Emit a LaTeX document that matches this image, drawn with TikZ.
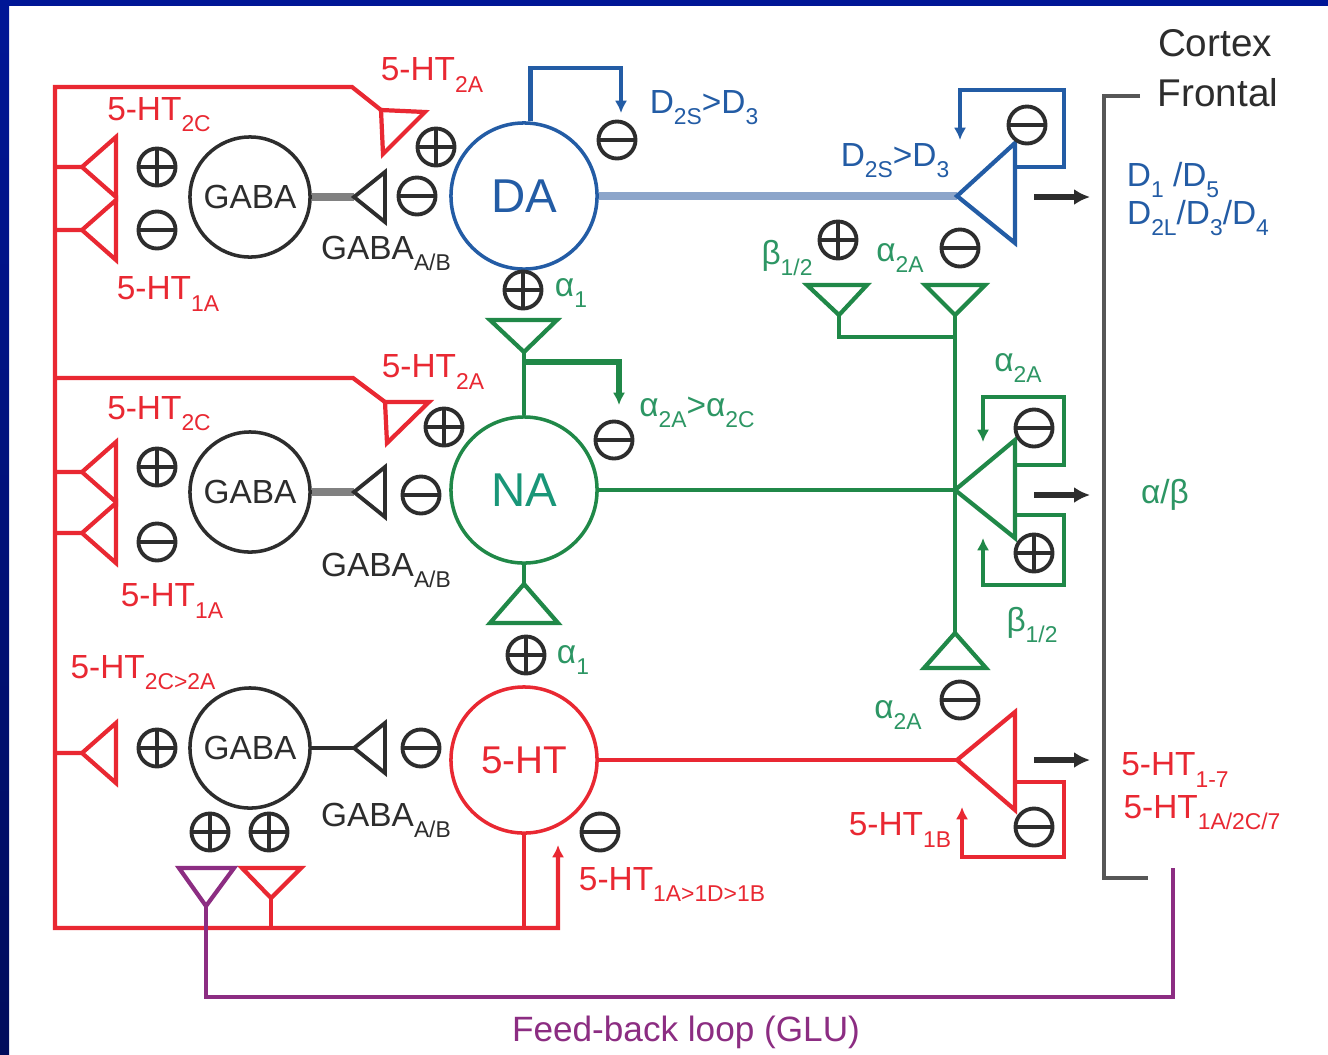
\documentclass[tikz,border=0pt]{standalone}
\usepackage{fontspec}
\setmainfont{Liberation Sans}
\usetikzlibrary{arrows.meta}
\definecolor{frame}{RGB}{0,22,150}
\definecolor{framedk}{RGB}{0,12,92}
\definecolor{htred}{RGB}{233,40,50}
\definecolor{dablue}{RGB}{35,92,165}
\definecolor{dalight}{RGB}{140,165,202}
\definecolor{nagreen}{RGB}{32,136,72}
\definecolor{natext}{RGB}{25,150,120}
\definecolor{rcpt}{RGB}{45,150,100}
\definecolor{glu}{RGB}{140,45,130}
\definecolor{ink}{RGB}{45,45,45}
\newcommand{\sbs}[1]{\raisebox{-0.33em}{\fontsize{6.5}{7}\selectfont #1}}

\begin{document}
\begin{tikzpicture}[x=0.01cm,y=-0.01cm,font=\fontsize{9.5}{11}\selectfont,
  cell/.style={circle,line width=1pt,minimum size=1.46cm,inner sep=0pt},
  gaba/.style={circle,draw=ink,line width=1pt,minimum size=1.2cm,inner sep=0pt,text=ink},
  sgn/.style={circle,draw=ink,line width=1.1pt,minimum size=0.37cm,inner sep=0pt},
  exc/.style={sgn,path picture={\draw[ink,line width=1.1pt] (path picture bounding box.west)--(path picture bounding box.east) (path picture bounding box.north)--(path picture bounding box.south);}},
  inh/.style={sgn,path picture={\draw[ink,line width=1.1pt] (path picture bounding box.west)--(path picture bounding box.east);}},
  lbl/.style={inner sep=0pt},
  htw/.style={htred,line width=1.2pt},
  naw/.style={nagreen,line width=1.2pt},
  daw/.style={dablue,line width=1.2pt},
  proj/.style={ink,line width=1.6pt,-{Latex[length=4.5pt,width=4.5pt]}},
  loopar/.style={-{Latex[length=3.5pt,width=3.5pt]}}]
\useasboundingbox (0,0) rectangle (1328,1054);
\fill[white] (0,0) rectangle (1328,1054);
\fill[frame] (0,0) rectangle (1328,6);
\shade[top color=frame,bottom color=framedk] (0,0) rectangle (9,1054);

% cells
\node[cell,draw=dablue,text=dablue,font=\fontsize{13.5}{14}\selectfont] (DA) at (524,196) {DA};
\node[cell,draw=nagreen,text=natext,font=\fontsize{13.5}{14}\selectfont] (NA) at (524,490) {NA};
\node[cell,draw=htred,text=htred,font=\fontsize{11}{12}\selectfont] (HT) at (524,760) {5-HT};
\node[gaba] (gaba1) at (250,197) {GABA};
\node[gaba] (gaba2) at (250,492) {GABA};
\node[gaba] (gaba3) at (250,748) {GABA};

% 5-HT projections (red)
\draw[htw,loopar] (381,110) -- (352,87) -- (55,87) -- (55,928) -- (558,928) -- (558,845);
\draw[htw] (385,402) -- (353,378) -- (55,378);
\draw[htw] (381,110) -- (425,112) -- (383,154) -- cycle;
\draw[htw] (385,402) -- (429,402) -- (387,443) -- cycle;
\foreach \y in {167,230,472,533,753}
  \draw[htw] (55,\y) -- (82,\y) (82,\y) -- ++(34,-30) -- ++(0,60) -- cycle;
\draw[htw] (HT.south) -- (524,928);
\draw[htw] (242,868) -- (301,868) -- (271,898) -- cycle;
\draw[htw] (271,898) -- (271,928);

% feed-back loop
\draw[glu,line width=1.2pt] (179,868) -- (234,868) -- (206,906) -- cycle;
\draw[glu,line width=1.2pt] (206,906) -- (206,997) -- (1173,997) -- (1173,868);
\node[lbl,text=glu,font=\fontsize{10}{11}\selectfont] (glu) at (686,1032) {Feed-back loop (GLU)};

% GABA interneurons
\draw[ink!60,line width=2pt] (gaba1.east) -- (354,197);
\draw[ink,line width=1.1pt] (354,197) -- (385,172) -- (385,222) -- cycle;
\draw[ink!60,line width=2pt] (gaba2.east) -- (354,492);
\draw[ink,line width=1.1pt] (354,492) -- (385,467) -- (385,517) -- cycle;
\draw[ink,line width=1.3pt] (gaba3.east) -- (354,748);
\draw[ink,line width=1.1pt] (354,748) -- (385,723) -- (385,773) -- cycle;

% DA (blue)
\draw[daw,loopar] (DA.85) |- (621,68) -- (621,113);
\draw[dalight,line width=2.4pt] (DA.east) -- (957,196);
\draw[daw] (957,196) -- (1015,143) -- (1015,243) -- cycle;
\draw[daw,loopar] (1015,167) -- (1064,167) -- (1064,90) -- (960,90) -- (960,140);

% NA (green)
\draw[naw] (490,320) -- (557,320) -- (524,352) -- cycle;
\draw[naw] (524,352) -- (NA.north);
\draw[nagreen,line width=1.8pt,loopar] (524,362) -- (619,362) -- (619,405);
\draw[naw] (NA.south) -- (524,584);
\draw[naw] (524,584) -- (558,623) -- (490,623) -- cycle;
\draw[naw] (NA.east) -- (955,490);
\draw[naw] (955,490) -- (1015,440) -- (1015,538) -- cycle;
\draw[naw,loopar] (1015,465) -- (1064,465) -- (1064,397) -- (983,397) -- (983,442);
\draw[naw,loopar] (1015,515) -- (1064,515) -- (1064,585) -- (983,585) -- (983,538);
\draw[naw] (807,285) -- (867,285) -- (839,315) -- cycle;
\draw[naw] (925,285) -- (985,285) -- (955,315) -- cycle;
\draw[naw] (839,315) -- (839,337) -- (955,337);
\draw[naw] (955,315) -- (955,633);
\draw[naw] (955,633) -- (986,668) -- (924,668) -- cycle;

% 5-HT axon
\draw[htw] (HT.east) -- (957,760);
\draw[htw] (957,760) -- (1015,712) -- (1015,810) -- cycle;
\draw[htw,loopar] (1015,782) -- (1064,782) -- (1064,857) -- (962,857) -- (962,807);

% cortex
\draw[proj] (1034,197) -- (1090,197);
\draw[proj] (1034,495) -- (1090,495);
\draw[proj] (1034,760) -- (1090,760);
\draw[ink!80,line width=1.1pt] (1140,96) -- (1104,96) -- (1104,878) -- (1148,878);
\node[lbl,text=ink,font=\fontsize{11}{12}\selectfont] (cx) at (1215,43) {Cortex};
\node[lbl,text=ink,font=\fontsize{11}{12}\selectfont] (fr) at (1218,93) {Frontal};

% signs
\node[exc] (p1) at (157,167) {};
\node[inh] (m1) at (157,230) {};
\node[exc] (p2) at (436,147) {};
\node[inh] (m2) at (417,196) {};
\node[exc] (p3) at (157,467) {};
\node[inh] (m3) at (157,542) {};
\node[exc] (p4) at (444,427) {};
\node[inh] (m4) at (421,495) {};
\node[exc] (p5) at (157,748) {};
\node[inh] (m5) at (421,748) {};
\node[exc] (p6) at (210,832) {};
\node[exc] (p7) at (269,832) {};
\node[inh] (m6) at (617,140) {};
\node[exc] (p8) at (523,290) {};
\node[inh] (m7) at (614,440) {};
\node[exc] (p9) at (526,655) {};
\node[inh] (m8) at (600,832) {};
\node[inh] (m9) at (1027,125) {};
\node[exc] (p10) at (838,240) {};
\node[inh] (m10) at (960,248) {};
\node[inh] (m11) at (1034,428) {};
\node[exc] (p11) at (1034,553) {};
\node[inh] (m12) at (960,700) {};
\node[inh] (m13) at (1034,827) {};

% receptor labels
\node[lbl,text=htred] (r1) at (432,75) {5-HT\sbs{2A}};
\node[lbl,text=htred] (r2) at (159,115) {5-HT\sbs{2C}};
\node[lbl,text=htred] (r3) at (168,294) {5-HT\sbs{1A}};
\node[lbl,text=htred] (r4) at (433,372) {5-HT\sbs{2A}};
\node[lbl,text=htred] (r5) at (159,414) {5-HT\sbs{2C}};
\node[lbl,text=htred] (r6) at (172,601) {5-HT\sbs{1A}};
\node[lbl,text=htred] (r7) at (143,673) {5-HT\sbs{2C>2A}};
\node[lbl,text=htred] (r8) at (672,884) {5-HT\sbs{1A>1D>1B}};
\node[lbl,text=htred] (r9) at (900,830) {5-HT\sbs{1B}};
\node[lbl,text=htred] (r10) at (1175,770) {5-HT\sbs{1-7}};
\node[lbl,text=htred] (r11) at (1202,813) {5-HT\sbs{1A/2C/7}};
\node[lbl,text=ink] (g1) at (386,253) {GABA\sbs{A/B}};
\node[lbl,text=ink] (g2) at (386,570) {GABA\sbs{A/B}};
\node[lbl,text=ink] (g3) at (386,820) {GABA\sbs{A/B}};
\node[lbl,text=dablue] (d1) at (704,108) {D\sbs{2S}>D\sbs{3}};
\node[lbl,text=dablue] (d2) at (895,161) {D\sbs{2S}>D\sbs{3}};
\node[lbl,text=dablue] (d3) at (1173,180) {D\sbs{1} /D\sbs{5}};
\node[lbl,text=dablue] (d4) at (1198,218) {D\sbs{2L}/D\sbs{3}/D\sbs{4}};
\node[lbl,text=rcpt] (a1) at (571,293) {α\sbs{1}};
\node[lbl,text=rcpt] (a2) at (697,412) {α\sbs{2A}>α\sbs{2C}};
\node[lbl,text=rcpt] (a3) at (573,660) {α\sbs{1}};
\node[lbl,text=rcpt] (b1) at (787,258) {β\sbs{1/2}};
\node[lbl,text=rcpt] (a4) at (900,258) {α\sbs{2A}};
\node[lbl,text=rcpt] (a5) at (1018,368) {α\sbs{2A}};
\node[lbl,text=rcpt] (b2) at (1032,625) {β\sbs{1/2}};
\node[lbl,text=rcpt] (a6) at (898,715) {α\sbs{2A}};
\node[lbl,text=rcpt] (ab) at (1165,495) {α/β};
\end{tikzpicture}
\end{document}
